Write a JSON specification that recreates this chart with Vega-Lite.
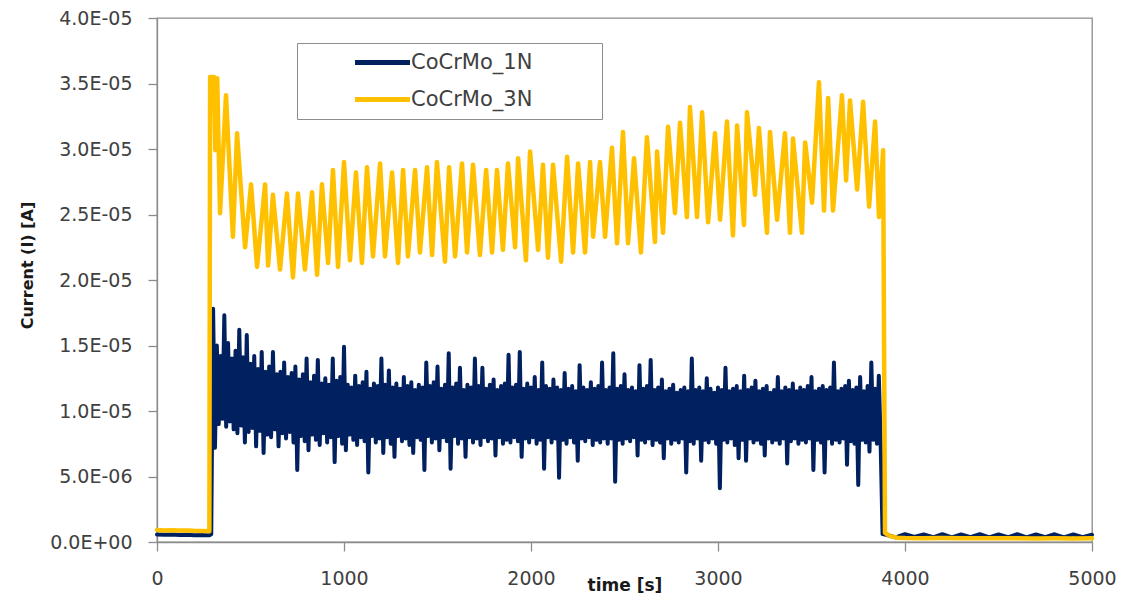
{
  "$schema": "https://vega.github.io/schema/vega-lite/v6.json",
  "width": 935,
  "height": 524,
  "autosize": "none",
  "padding": {"left": 157, "top": 18, "right": 32, "bottom": 57},
  "background": "white",
  "config": {
    "font": "DejaVu Sans",
    "view": {"stroke": "#8c8c8c", "strokeWidth": 1.3}
  },
  "datasets": {
    "n1": [
      {"t":0,"i":0.58e-6},{"t":40,"i":0.55e-6},{"t":80,"i":0.57e-6},{"t":120,"i":0.53e-6},{"t":160,"i":0.55e-6},{"t":200,"i":0.52e-6},{"t":240,"i":0.54e-6},{"t":280,"i":0.52e-6},{"t":290,"i":0.6e-6},
      {"t":300,"i":17.8e-6},{"t":310,"i":7.2e-6},{"t":320,"i":15.0e-6},{"t":330,"i":9.0e-6},{"t":340,"i":14.2e-6},{"t":350,"i":9.4e-6},{"t":360,"i":17.3e-6},{"t":370,"i":8.8e-6},
      {"t":380,"i":15.2e-6},{"t":390,"i":9.2e-6},{"t":400,"i":14.0e-6},{"t":410,"i":8.6e-6},{"t":420,"i":14.6e-6},{"t":430,"i":8.3e-6},{"t":440,"i":16.2e-6},{"t":450,"i":8.9e-6},
      {"t":460,"i":14.1e-6},{"t":470,"i":7.6e-6},{"t":480,"i":15.8e-6},{"t":490,"i":8.4e-6},{"t":500,"i":13.6e-6},{"t":510,"i":8.7e-6},{"t":520,"i":14.2e-6},{"t":530,"i":7.3e-6},
      {"t":540,"i":13.2e-6},{"t":550,"i":8.5e-6},{"t":560,"i":14.5e-6},{"t":570,"i":6.8e-6},{"t":580,"i":13.0e-6},{"t":590,"i":8.2e-6},{"t":600,"i":13.4e-6},{"t":610,"i":8.0e-6},
      {"t":620,"i":14.5e-6},{"t":630,"i":8.6e-6},{"t":640,"i":12.8e-6},{"t":650,"i":7.3e-6},{"t":660,"i":13.0e-6},{"t":670,"i":8.3e-6},{"t":680,"i":13.7e-6},{"t":690,"i":7.9e-6},
      {"t":700,"i":12.6e-6},{"t":710,"i":8.4e-6},{"t":720,"i":12.9e-6},{"t":730,"i":7.6e-6},{"t":740,"i":13.4e-6},{"t":750,"i":5.5e-6},{"t":760,"i":12.4e-6},{"t":770,"i":8.1e-6},
      {"t":780,"i":12.8e-6},{"t":790,"i":7.7e-6},{"t":800,"i":14.0e-6},{"t":810,"i":7.0e-6},{"t":820,"i":12.2e-6},{"t":830,"i":8.2e-6},{"t":840,"i":12.7e-6},{"t":850,"i":7.8e-6},
      {"t":860,"i":13.9e-6},{"t":870,"i":7.4e-6},{"t":880,"i":12.1e-6},{"t":890,"i":8.3e-6},{"t":900,"i":12.5e-6},{"t":910,"i":7.6e-6},{"t":920,"i":12.0e-6},{"t":930,"i":8.0e-6},
      {"t":940,"i":14.0e-6},{"t":950,"i":6.1e-6},{"t":960,"i":12.3e-6},{"t":970,"i":8.1e-6},{"t":980,"i":12.6e-6},{"t":990,"i":7.5e-6},{"t":1000,"i":14.9e-6},{"t":1010,"i":7.0e-6},
      {"t":1020,"i":12.0e-6},{"t":1030,"i":8.2e-6},{"t":1040,"i":11.8e-6},{"t":1050,"i":7.8e-6},{"t":1060,"i":12.7e-6},{"t":1070,"i":7.4e-6},{"t":1080,"i":11.9e-6},{"t":1090,"i":8.0e-6},
      {"t":1100,"i":12.2e-6},{"t":1110,"i":7.7e-6},{"t":1120,"i":13.0e-6},{"t":1130,"i":5.3e-6},{"t":1140,"i":11.7e-6},{"t":1150,"i":8.1e-6},{"t":1160,"i":12.1e-6},{"t":1170,"i":7.6e-6},
      {"t":1180,"i":11.9e-6},{"t":1190,"i":7.9e-6},{"t":1200,"i":14.0e-6},{"t":1210,"i":6.8e-6},{"t":1220,"i":12.0e-6},{"t":1230,"i":8.0e-6},{"t":1240,"i":13.1e-6},{"t":1250,"i":7.5e-6},
      {"t":1260,"i":11.8e-6},{"t":1270,"i":6.5e-6},{"t":1280,"i":12.1e-6},{"t":1290,"i":8.1e-6},{"t":1300,"i":11.7e-6},{"t":1310,"i":7.7e-6},{"t":1320,"i":12.6e-6},{"t":1330,"i":7.9e-6},
      {"t":1340,"i":11.9e-6},{"t":1350,"i":7.4e-6},{"t":1360,"i":12.2e-6},{"t":1370,"i":6.8e-6},{"t":1380,"i":11.6e-6},{"t":1390,"i":8.0e-6},{"t":1400,"i":12.0e-6},{"t":1410,"i":7.8e-6},
      {"t":1420,"i":11.8e-6},{"t":1430,"i":5.5e-6},{"t":1440,"i":13.7e-6},{"t":1450,"i":8.1e-6},{"t":1460,"i":11.9e-6},{"t":1470,"i":7.6e-6},{"t":1480,"i":12.2e-6},{"t":1490,"i":7.9e-6},
      {"t":1500,"i":13.4e-6},{"t":1510,"i":7.0e-6},{"t":1520,"i":11.7e-6},{"t":1530,"i":8.0e-6},{"t":1540,"i":12.0e-6},{"t":1550,"i":7.7e-6},{"t":1560,"i":14.4e-6},{"t":1570,"i":5.6e-6},
      {"t":1580,"i":11.8e-6},{"t":1590,"i":8.1e-6},{"t":1600,"i":12.1e-6},{"t":1610,"i":7.5e-6},{"t":1620,"i":13.3e-6},{"t":1630,"i":7.9e-6},{"t":1640,"i":11.6e-6},{"t":1650,"i":6.5e-6},
      {"t":1660,"i":12.0e-6},{"t":1670,"i":8.0e-6},{"t":1680,"i":11.8e-6},{"t":1690,"i":7.6e-6},{"t":1700,"i":14.0e-6},{"t":1710,"i":7.9e-6},{"t":1720,"i":11.9e-6},{"t":1730,"i":7.4e-6},
      {"t":1740,"i":13.3e-6},{"t":1750,"i":8.0e-6},{"t":1760,"i":11.7e-6},{"t":1770,"i":7.7e-6},{"t":1780,"i":12.0e-6},{"t":1790,"i":7.9e-6},{"t":1800,"i":12.4e-6},{"t":1810,"i":6.6e-6},
      {"t":1820,"i":11.6e-6},{"t":1830,"i":8.0e-6},{"t":1840,"i":11.9e-6},{"t":1850,"i":7.5e-6},{"t":1860,"i":12.1e-6},{"t":1870,"i":7.8e-6},{"t":1880,"i":14.3e-6},{"t":1890,"i":7.6e-6},
      {"t":1900,"i":11.8e-6},{"t":1910,"i":8.0e-6},{"t":1920,"i":12.0e-6},{"t":1930,"i":7.7e-6},{"t":1940,"i":14.5e-6},{"t":1950,"i":6.5e-6},{"t":1960,"i":11.7e-6},{"t":1970,"i":7.9e-6},
      {"t":1980,"i":12.1e-6},{"t":1990,"i":7.6e-6},{"t":2000,"i":11.8e-6},{"t":2010,"i":8.0e-6},{"t":2020,"i":12.6e-6},{"t":2030,"i":7.5e-6},{"t":2040,"i":11.6e-6},{"t":2050,"i":7.8e-6},
      {"t":2060,"i":13.7e-6},{"t":2070,"i":5.6e-6},{"t":2080,"i":11.9e-6},{"t":2090,"i":8.0e-6},{"t":2100,"i":11.7e-6},{"t":2110,"i":7.6e-6},{"t":2120,"i":12.4e-6},{"t":2130,"i":7.9e-6},
      {"t":2140,"i":11.8e-6},{"t":2150,"i":4.9e-6},{"t":2160,"i":11.6e-6},{"t":2170,"i":7.8e-6},{"t":2180,"i":12.9e-6},{"t":2190,"i":7.5e-6},{"t":2200,"i":11.7e-6},{"t":2210,"i":8.0e-6},
      {"t":2220,"i":11.9e-6},{"t":2230,"i":7.6e-6},{"t":2240,"i":11.5e-6},{"t":2250,"i":6.2e-6},{"t":2260,"i":13.5e-6},{"t":2270,"i":7.9e-6},{"t":2280,"i":11.8e-6},{"t":2290,"i":7.7e-6},
      {"t":2300,"i":11.6e-6},{"t":2310,"i":8.0e-6},{"t":2320,"i":12.2e-6},{"t":2330,"i":7.4e-6},{"t":2340,"i":11.7e-6},{"t":2350,"i":7.8e-6},{"t":2360,"i":11.9e-6},{"t":2370,"i":7.6e-6},
      {"t":2380,"i":13.7e-6},{"t":2390,"i":7.9e-6},{"t":2400,"i":11.6e-6},{"t":2410,"i":7.5e-6},{"t":2420,"i":11.8e-6},{"t":2430,"i":7.9e-6},{"t":2440,"i":14.4e-6},{"t":2450,"i":4.6e-6},
      {"t":2460,"i":11.7e-6},{"t":2470,"i":7.8e-6},{"t":2480,"i":11.9e-6},{"t":2490,"i":7.5e-6},{"t":2500,"i":12.8e-6},{"t":2510,"i":7.9e-6},{"t":2520,"i":11.6e-6},{"t":2530,"i":7.7e-6},
      {"t":2540,"i":11.8e-6},{"t":2550,"i":8.0e-6},{"t":2560,"i":11.5e-6},{"t":2570,"i":6.6e-6},{"t":2580,"i":13.5e-6},{"t":2590,"i":7.8e-6},{"t":2600,"i":11.7e-6},{"t":2610,"i":7.6e-6},
      {"t":2620,"i":11.9e-6},{"t":2630,"i":7.9e-6},{"t":2640,"i":13.9e-6},{"t":2650,"i":7.4e-6},{"t":2660,"i":11.6e-6},{"t":2670,"i":7.8e-6},{"t":2680,"i":11.8e-6},{"t":2690,"i":7.6e-6},
      {"t":2700,"i":12.4e-6},{"t":2710,"i":6.4e-6},{"t":2720,"i":11.5e-6},{"t":2730,"i":7.9e-6},{"t":2740,"i":11.7e-6},{"t":2750,"i":7.5e-6},{"t":2760,"i":12.0e-6},{"t":2770,"i":7.8e-6},
      {"t":2780,"i":11.4e-6},{"t":2790,"i":7.6e-6},{"t":2800,"i":11.6e-6},{"t":2810,"i":7.9e-6},{"t":2820,"i":11.8e-6},{"t":2830,"i":5.3e-6},{"t":2840,"i":11.5e-6},{"t":2850,"i":7.7e-6},
      {"t":2860,"i":14.0e-6},{"t":2870,"i":7.5e-6},{"t":2880,"i":11.6e-6},{"t":2890,"i":7.9e-6},{"t":2900,"i":11.8e-6},{"t":2910,"i":6.2e-6},{"t":2920,"i":11.5e-6},{"t":2930,"i":7.8e-6},
      {"t":2940,"i":12.5e-6},{"t":2950,"i":7.6e-6},{"t":2960,"i":11.7e-6},{"t":2970,"i":7.9e-6},{"t":2980,"i":11.4e-6},{"t":2990,"i":7.5e-6},{"t":3000,"i":11.8e-6},{"t":3010,"i":4.1e-6},
      {"t":3020,"i":11.6e-6},{"t":3030,"i":7.8e-6},{"t":3040,"i":13.3e-6},{"t":3050,"i":7.6e-6},{"t":3060,"i":11.5e-6},{"t":3070,"i":7.9e-6},{"t":3080,"i":11.7e-6},{"t":3090,"i":7.4e-6},
      {"t":3100,"i":11.9e-6},{"t":3110,"i":6.4e-6},{"t":3120,"i":11.5e-6},{"t":3130,"i":7.8e-6},{"t":3140,"i":12.7e-6},{"t":3150,"i":6.2e-6},{"t":3160,"i":11.6e-6},{"t":3170,"i":7.9e-6},
      {"t":3180,"i":11.8e-6},{"t":3190,"i":7.6e-6},{"t":3200,"i":12.3e-6},{"t":3210,"i":7.8e-6},{"t":3220,"i":11.5e-6},{"t":3230,"i":7.5e-6},{"t":3240,"i":11.7e-6},{"t":3250,"i":6.6e-6},
      {"t":3260,"i":11.9e-6},{"t":3270,"i":7.9e-6},{"t":3280,"i":11.4e-6},{"t":3290,"i":7.6e-6},{"t":3300,"i":11.6e-6},{"t":3310,"i":7.8e-6},{"t":3320,"i":12.6e-6},{"t":3330,"i":7.5e-6},
      {"t":3340,"i":11.5e-6},{"t":3350,"i":7.9e-6},{"t":3360,"i":11.8e-6},{"t":3370,"i":6.0e-6},{"t":3380,"i":11.6e-6},{"t":3390,"i":7.7e-6},{"t":3400,"i":12.1e-6},{"t":3410,"i":7.9e-6},
      {"t":3420,"i":11.5e-6},{"t":3430,"i":7.5e-6},{"t":3440,"i":11.8e-6},{"t":3450,"i":7.8e-6},{"t":3460,"i":11.6e-6},{"t":3470,"i":7.6e-6},{"t":3480,"i":11.9e-6},{"t":3490,"i":7.9e-6},
      {"t":3500,"i":12.6e-6},{"t":3510,"i":5.5e-6},{"t":3520,"i":11.5e-6},{"t":3530,"i":7.8e-6},{"t":3540,"i":11.7e-6},{"t":3550,"i":7.6e-6},{"t":3560,"i":11.9e-6},{"t":3570,"i":5.3e-6},
      {"t":3580,"i":11.6e-6},{"t":3590,"i":7.9e-6},{"t":3600,"i":11.8e-6},{"t":3610,"i":7.5e-6},{"t":3620,"i":13.7e-6},{"t":3630,"i":7.8e-6},{"t":3640,"i":11.5e-6},{"t":3650,"i":7.6e-6},
      {"t":3660,"i":11.7e-6},{"t":3670,"i":7.9e-6},{"t":3680,"i":11.9e-6},{"t":3690,"i":5.9e-6},{"t":3700,"i":12.3e-6},{"t":3710,"i":7.7e-6},{"t":3720,"i":11.6e-6},{"t":3730,"i":7.5e-6},
      {"t":3740,"i":11.8e-6},{"t":3750,"i":4.35e-6},{"t":3760,"i":12.6e-6},{"t":3770,"i":7.8e-6},{"t":3780,"i":11.5e-6},{"t":3790,"i":7.6e-6},{"t":3800,"i":11.9e-6},{"t":3810,"i":6.9e-6},
      {"t":3820,"i":13.7e-6},{"t":3830,"i":7.8e-6},{"t":3840,"i":11.7e-6},{"t":3850,"i":7.5e-6},{"t":3860,"i":12.7e-6},{"t":3870,"i":7.4e-6},
      {"t":3880,"i":0.6e-6},{"t":3900,"i":0.55e-6},{"t":3950,"i":0.35e-6},{"t":4000,"i":0.6e-6},{"t":4050,"i":0.38e-6},{"t":4100,"i":0.58e-6},{"t":4150,"i":0.36e-6},{"t":4200,"i":0.6e-6},
      {"t":4250,"i":0.35e-6},{"t":4300,"i":0.57e-6},{"t":4350,"i":0.37e-6},{"t":4400,"i":0.6e-6},{"t":4450,"i":0.35e-6},{"t":4500,"i":0.58e-6},{"t":4550,"i":0.36e-6},{"t":4600,"i":0.6e-6},
      {"t":4650,"i":0.35e-6},{"t":4700,"i":0.57e-6},{"t":4750,"i":0.37e-6},{"t":4800,"i":0.59e-6},{"t":4850,"i":0.35e-6},{"t":4900,"i":0.58e-6},{"t":4950,"i":0.36e-6},{"t":5000,"i":0.55e-6}
    ],
    "n3": [
      {"t":0,"i":0.92e-6},{"t":40,"i":0.88e-6},{"t":80,"i":0.9e-6},{"t":120,"i":0.87e-6},{"t":160,"i":0.88e-6},{"t":200,"i":0.85e-6},{"t":240,"i":0.84e-6},{"t":280,"i":0.83e-6},
      {"t":284,"i":35.5e-6},{"t":305,"i":35.5e-6},{"t":312,"i":29.9e-6},{"t":322,"i":35.4e-6},{"t":337,"i":25.1e-6},{"t":369,"i":34.1e-6},{"t":406,"i":23.3e-6},{"t":428,"i":31.2e-6},
      {"t":471,"i":22.5e-6},{"t":503,"i":27.3e-6},{"t":535,"i":21.0e-6},{"t":578,"i":27.3e-6},{"t":594,"i":21.1e-6},{"t":620,"i":26.5e-6},{"t":658,"i":20.8e-6},{"t":695,"i":26.6e-6},
      {"t":727,"i":20.2e-6},{"t":754,"i":26.6e-6},{"t":791,"i":20.8e-6},{"t":829,"i":26.7e-6},{"t":856,"i":20.4e-6},{"t":882,"i":27.3e-6},{"t":915,"i":21.3e-6},{"t":941,"i":28.4e-6},
      {"t":968,"i":21.0e-6},{"t":1000,"i":29.0e-6},{"t":1032,"i":21.5e-6},{"t":1064,"i":28.2e-6},{"t":1096,"i":21.3e-6},{"t":1123,"i":28.6e-6},{"t":1155,"i":21.8e-6},{"t":1193,"i":28.9e-6},
      {"t":1219,"i":21.8e-6},{"t":1257,"i":28.2e-6},{"t":1289,"i":21.3e-6},{"t":1316,"i":28.4e-6},{"t":1342,"i":21.8e-6},{"t":1380,"i":28.4e-6},{"t":1406,"i":22.1e-6},{"t":1444,"i":28.6e-6},
      {"t":1471,"i":21.9e-6},{"t":1497,"i":29.0e-6},{"t":1540,"i":21.4e-6},{"t":1562,"i":28.6e-6},{"t":1594,"i":21.8e-6},{"t":1631,"i":28.9e-6},{"t":1658,"i":22.1e-6},{"t":1690,"i":28.8e-6},
      {"t":1727,"i":21.9e-6},{"t":1760,"i":28.4e-6},{"t":1792,"i":22.1e-6},{"t":1818,"i":28.4e-6},{"t":1850,"i":22.3e-6},{"t":1877,"i":28.9e-6},{"t":1915,"i":22.5e-6},{"t":1931,"i":29.3e-6},
      {"t":1973,"i":21.5e-6},{"t":1995,"i":29.8e-6},{"t":2038,"i":22.3e-6},{"t":2064,"i":28.8e-6},{"t":2091,"i":21.7e-6},{"t":2118,"i":28.8e-6},{"t":2161,"i":21.4e-6},{"t":2193,"i":29.4e-6},
      {"t":2225,"i":22.1e-6},{"t":2252,"i":28.9e-6},{"t":2289,"i":22.1e-6},{"t":2316,"i":29.0e-6},{"t":2332,"i":23.3e-6},{"t":2369,"i":29.0e-6},{"t":2396,"i":23.3e-6},{"t":2433,"i":30.1e-6},
      {"t":2460,"i":22.8e-6},{"t":2492,"i":31.3e-6},{"t":2519,"i":22.8e-6},{"t":2551,"i":29.3e-6},{"t":2588,"i":22.1e-6},{"t":2620,"i":30.9e-6},{"t":2663,"i":22.9e-6},{"t":2674,"i":29.8e-6},
      {"t":2706,"i":23.6e-6},{"t":2733,"i":31.7e-6},{"t":2770,"i":25.1e-6},{"t":2797,"i":32.0e-6},{"t":2834,"i":24.8e-6},{"t":2850,"i":33.2e-6},{"t":2888,"i":24.8e-6},{"t":2915,"i":32.8e-6},
      {"t":2947,"i":24.4e-6},{"t":2984,"i":31.2e-6},{"t":3011,"i":24.6e-6},{"t":3048,"i":32.1e-6},{"t":3080,"i":23.4e-6},{"t":3102,"i":31.8e-6},{"t":3139,"i":24.2e-6},{"t":3155,"i":32.8e-6},
      {"t":3198,"i":26.5e-6},{"t":3219,"i":31.6e-6},{"t":3262,"i":23.6e-6},{"t":3278,"i":31.3e-6},{"t":3316,"i":24.6e-6},{"t":3358,"i":31.2e-6},{"t":3385,"i":23.6e-6},{"t":3401,"i":30.8e-6},
      {"t":3449,"i":23.6e-6},{"t":3466,"i":30.5e-6},{"t":3503,"i":25.9e-6},{"t":3540,"i":35.1e-6},{"t":3567,"i":25.3e-6},{"t":3589,"i":33.9e-6},{"t":3615,"i":25.3e-6},{"t":3663,"i":34.1e-6},
      {"t":3685,"i":27.6e-6},{"t":3706,"i":33.7e-6},{"t":3744,"i":26.9e-6},{"t":3776,"i":33.6e-6},{"t":3808,"i":25.6e-6},{"t":3840,"i":32.1e-6},{"t":3861,"i":24.8e-6},{"t":3883,"i":29.9e-6},
      {"t":3893,"i":0.7e-6},{"t":3920,"i":0.45e-6},{"t":3960,"i":0.33e-6},{"t":4000,"i":0.3e-6},{"t":4100,"i":0.29e-6},{"t":4200,"i":0.3e-6},{"t":4300,"i":0.28e-6},{"t":4400,"i":0.29e-6},
      {"t":4500,"i":0.28e-6},{"t":4600,"i":0.29e-6},{"t":4700,"i":0.27e-6},{"t":4800,"i":0.28e-6},{"t":4900,"i":0.27e-6},{"t":5000,"i":0.28e-6}
    ]
  },
  "encoding": {
    "x": {
      "field": "t",
      "type": "quantitative",
      "scale": {"domain": [0, 5000], "nice": false, "zero": false},
      "axis": {
        "values": [0, 1000, 2000, 3000, 4000, 5000],
        "format": "d",
        "grid": false,
        "domainColor": "#8c8c8c",
        "domainWidth": 1.3,
        "tickColor": "#8c8c8c",
        "tickWidth": 1.3,
        "tickSize": 9,
        "labelFontSize": 19,
        "labelColor": "#404040",
        "labelPadding": 18,
        "labelFlush": false,
        "title": "time [s]",
        "titleFontSize": 17,
        "titleFontWeight": "bold",
        "titleColor": "#1a1a1a",
        "titleBaseline": "alphabetic",
        "titleY": 48
      }
    },
    "y": {
      "field": "i",
      "type": "quantitative",
      "scale": {"domain": [0, 0.00004], "nice": false},
      "axis": {
        "values": [0, 0.000005, 0.00001, 0.000015, 0.00002, 0.000025, 0.00003, 0.000035, 0.00004],
        "labelExpr": "replace(replace(upper(format(datum.value, '.1e')), 'E-', 'E-0'), 'E+', 'E+0')",
        "grid": false,
        "domainColor": "#8c8c8c",
        "domainWidth": 1.3,
        "tickColor": "#8c8c8c",
        "tickWidth": 1.3,
        "tickSize": 9,
        "labelFontSize": 19,
        "labelColor": "#404040",
        "labelPadding": 16,
        "labelFlush": false,
        "title": "Current (I)  [A]",
        "titleFontSize": 16,
        "titleFontWeight": "bold",
        "titleColor": "#1a1a1a",
        "titleAngle": 270,
        "titleBaseline": "bottom",
        "titleX": -122,
        "titleY": 247
      }
    }
  },
  "layer": [
    {
      "data": {"name": "n1"},
      "mark": {"type": "line", "strokeWidth": 4, "strokeJoin": "round", "strokeCap": "round"},
      "encoding": {
        "color": {
          "datum": "CoCrMo_1N",
          "type": "nominal",
          "scale": {"domain": ["CoCrMo_1N", "CoCrMo_3N"], "range": ["#002060", "#FFC000"]},
          "legend": {
            "title": null,
            "orient": "none",
            "legendX": 140,
            "legendY": 25,
            "padding": 9,
            "strokeColor": "#8c8c8c",
            "fillColor": "white",
            "symbolType": "M-5,0H5",
            "symbolSize": 121,
            "symbolStrokeWidth": 5,
            "symbolOffset": 66,
            "labelOffset": 18,
            "labelExpr": "datum.label + '\u00a0\u00a0\u00a0\u00a0\u00a0\u00a0\u00a0\u00a0\u00a0\u200b'",
            "labelLimit": 400,
            "labelFontSize": 21,
            "labelColor": "#404040",
            "rowPadding": 15
          }
        }
      }
    },
    {
      "data": {"name": "n3"},
      "mark": {"type": "line", "strokeWidth": 4.5, "strokeJoin": "round", "strokeCap": "round"},
      "encoding": {
        "color": {"datum": "CoCrMo_3N", "type": "nominal"}
      }
    }
  ]
}
